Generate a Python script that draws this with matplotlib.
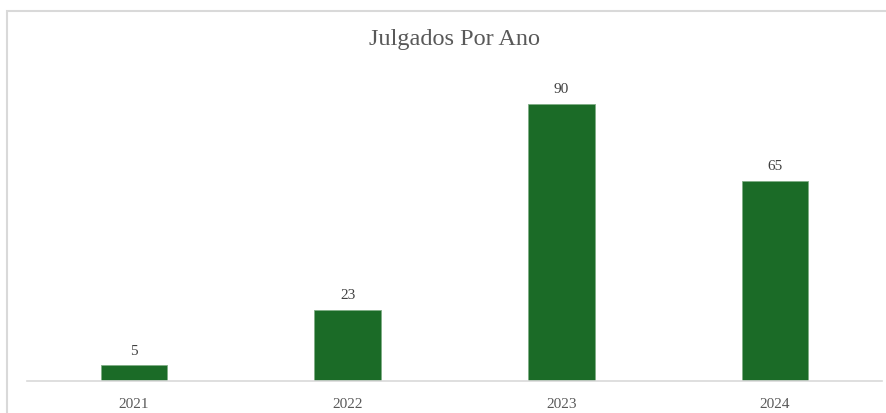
import matplotlib.pyplot as plt
from matplotlib.patches import Rectangle

years = ["2021", "2022", "2023", "2024"]
julgados = [5, 23, 90, 65]

plt.rcParams['font.family'] = ['Liberation Serif', 'DejaVu Serif']

W, H = 887, 414
fig = plt.figure(figsize=(W / 100, H / 100), dpi=100)
ax = fig.add_axes([27 / W, (H - 381.5) / H, (882 - 27) / W, (381.5 - 74) / H])

bars = ax.bar(range(len(years)), julgados, width=0.31, color='#1b6b27',
              edgecolor='#7fae86', linewidth=0.6, zorder=2)
for b, v in zip(bars, julgados):
    ax.annotate(str(v), (b.get_x() + b.get_width() / 2, v), xytext=(0, 6),
                textcoords='offset points', ha='center', va='bottom',
                fontsize=11, color='#404040')

ax.set_xlim(-0.5, len(years) - 0.5)
ax.set_ylim(0, 100)
ax.set_xticks(range(len(years)))
ax.set_xticklabels(years, fontsize=11, color='#595959')
ax.tick_params(axis='x', length=0, pad=12)
ax.set_yticks([])
for s in ['top', 'right', 'left']:
    ax.spines[s].set_visible(False)
ax.spines['bottom'].set_color('#d9d9d9')
ax.spines['bottom'].set_linewidth(1.2)

fig.text((27 + 882) / 2 / W, 1 - 39 / H, "Julgados Por Ano", ha='center',
         va='center', fontsize=17.5, color='#595959')

# chart frame (cut off at right/bottom like the reference)
fig.patches.append(Rectangle((7.5 / W, -0.1), 1.0, 1 - 11.5 / H + 0.1,
                             transform=fig.transFigure, fill=False,
                             edgecolor='#d9d9d9', linewidth=1.5))

fig.savefig('out.png', dpi=100)
